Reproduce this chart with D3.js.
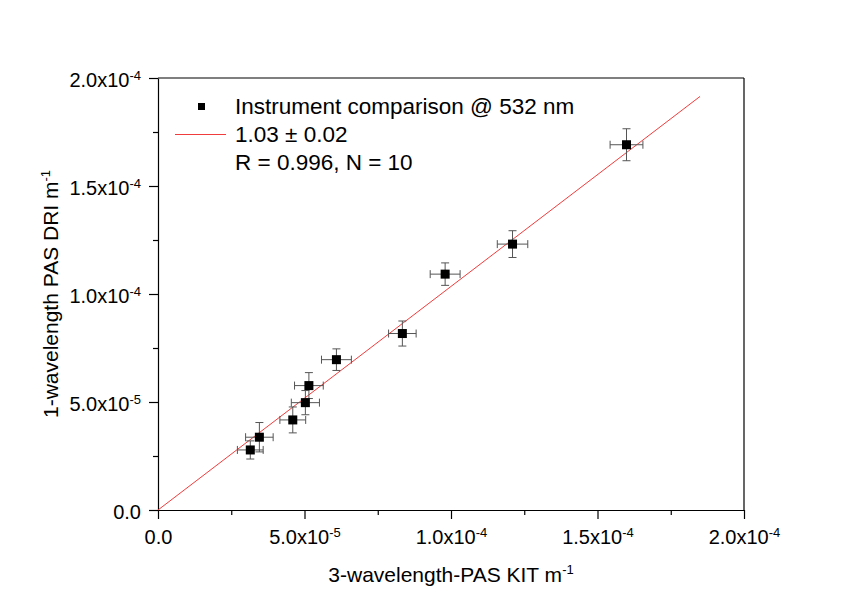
<!DOCTYPE html>
<html>
<head>
<meta charset="utf-8">
<script src="https://cdn.jsdelivr.net/npm/d3@7"></script>
<style>
  body { margin: 0; background: #fff; }
  text { font-family: "Liberation Sans", Arial, sans-serif; fill: #000; }
  .axis path, .axis line { stroke: #000; stroke-width: 1.2; }
</style>
</head>
<body>
<svg id="chart"></svg>
<script>
// measured values (m^-1)
const kitX   = [3.15e-5, 3.46e-5, 4.60e-5, 5.03e-5, 5.15e-5, 6.09e-5, 8.34e-5, 9.80e-5, 1.210e-4, 1.599e-4];
const kitErr = [0.44e-5, 0.47e-5, 0.44e-5, 0.48e-5, 0.49e-5, 0.51e-5, 0.47e-5, 0.51e-5, 0.52e-5, 0.56e-5];
const driY   = [2.78e-5, 3.37e-5, 4.17e-5, 4.97e-5, 5.76e-5, 6.96e-5, 8.17e-5, 1.092e-4, 1.231e-4, 1.691e-4];
const driErr = [0.42e-5, 0.68e-5, 0.60e-5, 0.56e-5, 0.60e-5, 0.50e-5, 0.58e-5, 0.52e-5, 0.62e-5, 0.74e-5];

const fitSlope = 1.035;
const fitRange = [0, 1.85e-4];

const majorTicks = [0, 5e-5, 1e-4, 1.5e-4, 2e-4];
const minorTicks = [2.5e-5, 7.5e-5, 1.25e-4, 1.75e-4];
const tickMantissa = ["0.0", "5.0x10", "1.0x10", "1.5x10", "2.0x10"];
const tickExponent = ["", "-5", "-4", "-4", "-4"];

const legendLines = ["Instrument comparison @ 532 nm", "1.03 \u00b1 0.02", "R = 0.996, N = 10"];

const W = 855, H = 600;
const margin = { top: 78, right: 111, bottom: 90, left: 158 };
const width = W - margin.left - margin.right;
const height = H - margin.top - margin.bottom;

const svg = d3.select("#chart").attr("width", W).attr("height", H);
const g = svg.append("g").attr("transform", `translate(${margin.left},${margin.top})`);

const x = d3.scaleLinear().domain([0, 2e-4]).range([0, width]);
const y = d3.scaleLinear().domain([0, 2e-4]).range([height, 0]);

const labelFor = (sel, d) => {
  const i = majorTicks.indexOf(d);
  sel.text(null);
  sel.append("tspan").text(tickMantissa[i]);
  if (tickExponent[i]) {
    sel.append("tspan").attr("dy", "-0.55em").attr("font-size", "13px").text(tickExponent[i]);
  }
};

// frame (top and right)
g.append("line").attr("x1", 0).attr("x2", width).attr("y1", 0).attr("y2", 0)
  .attr("stroke", "#000").attr("stroke-width", 1.2);
g.append("line").attr("x1", width).attr("x2", width).attr("y1", 0).attr("y2", height)
  .attr("stroke", "#000").attr("stroke-width", 1.2);

// minor ticks
g.append("g").attr("class", "axis").attr("transform", `translate(0,${height})`)
  .call(d3.axisBottom(x).tickValues(minorTicks).tickSize(5).tickFormat(""))
  .select(".domain").remove();
g.append("g").attr("class", "axis")
  .call(d3.axisLeft(y).tickValues(minorTicks).tickSize(5).tickFormat(""))
  .select(".domain").remove();

// major axes
const xAxis = g.append("g").attr("class", "axis").attr("transform", `translate(0,${height})`)
  .call(d3.axisBottom(x).tickValues(majorTicks).tickSizeInner(9).tickSizeOuter(0));
xAxis.selectAll(".tick text")
  .attr("font-size", "20px").attr("y", 20).attr("dy", "0.71em")
  .each(function(d) { labelFor(d3.select(this), d); });

const yAxis = g.append("g").attr("class", "axis")
  .call(d3.axisLeft(y).tickValues(majorTicks).tickSizeInner(9).tickSizeOuter(0));
yAxis.selectAll(".tick text")
  .attr("font-size", "20px").attr("x", -17).attr("dy", "0.42em")
  .each(function(d) { labelFor(d3.select(this), d); });

// fit line
g.append("line")
  .attr("x1", x(fitRange[0])).attr("y1", y(fitRange[0] * fitSlope))
  .attr("x2", x(fitRange[1])).attr("y2", y(fitRange[1] * fitSlope))
  .attr("stroke", "#f03c3c").attr("stroke-width", 1);

// error bars
const pts = kitX.map((v, i) => ({ x: v, y: driY[i], ex: kitErr[i], ey: driErr[i] }));
const errColor = "#555";
const cap = 4;
const eb = g.append("g").attr("stroke", errColor).attr("stroke-width", 1);
pts.forEach(p => {
  const cx = x(p.x), cy = y(p.y);
  const x0 = x(p.x - p.ex), x1 = x(p.x + p.ex);
  const y0 = y(p.y - p.ey), y1 = y(p.y + p.ey);
  eb.append("line").attr("x1", x0).attr("x2", x1).attr("y1", cy).attr("y2", cy);
  eb.append("line").attr("x1", x0).attr("x2", x0).attr("y1", cy - cap).attr("y2", cy + cap);
  eb.append("line").attr("x1", x1).attr("x2", x1).attr("y1", cy - cap).attr("y2", cy + cap);
  eb.append("line").attr("x1", cx).attr("x2", cx).attr("y1", y0).attr("y2", y1);
  eb.append("line").attr("x1", cx - cap).attr("x2", cx + cap).attr("y1", y0).attr("y2", y0);
  eb.append("line").attr("x1", cx - cap).attr("x2", cx + cap).attr("y1", y1).attr("y2", y1);
});

// markers
const sq = 9;
g.selectAll("rect.pt").data(pts).enter().append("rect")
  .attr("class", "pt")
  .attr("x", d => x(d.x) - sq / 2).attr("y", d => y(d.y) - sq / 2)
  .attr("width", sq).attr("height", sq).attr("fill", "#000");

// legend
const leg = g.append("g");
leg.append("rect").attr("x", 40).attr("y", 25).attr("width", 7).attr("height", 7).attr("fill", "#000");
leg.append("line").attr("x1", 17).attr("x2", 68).attr("y1", 56.5).attr("y2", 56.5)
  .attr("stroke", "#f03c3c").attr("stroke-width", 1);
legendLines.forEach((t, i) => {
  leg.append("text").attr("x", 77).attr("y", 35.5 + i * 28).attr("font-size", "22.5px").text(t);
});

// axis titles
const xt = svg.append("text").attr("x", margin.left + width / 2).attr("y", 582)
  .attr("text-anchor", "middle").attr("font-size", "21px");
xt.append("tspan").text("3-wavelength-PAS KIT m");
xt.append("tspan").attr("dy", "-0.6em").attr("font-size", "13px").text("-1");

const yt = svg.append("text")
  .attr("transform", `translate(58,${margin.top + height / 2}) rotate(-90)`)
  .attr("text-anchor", "middle").attr("font-size", "21px");
yt.append("tspan").text("1-wavelength PAS DRI m");
yt.append("tspan").attr("dy", "-0.6em").attr("font-size", "13px").text("-1");
</script>
</body>
</html>
